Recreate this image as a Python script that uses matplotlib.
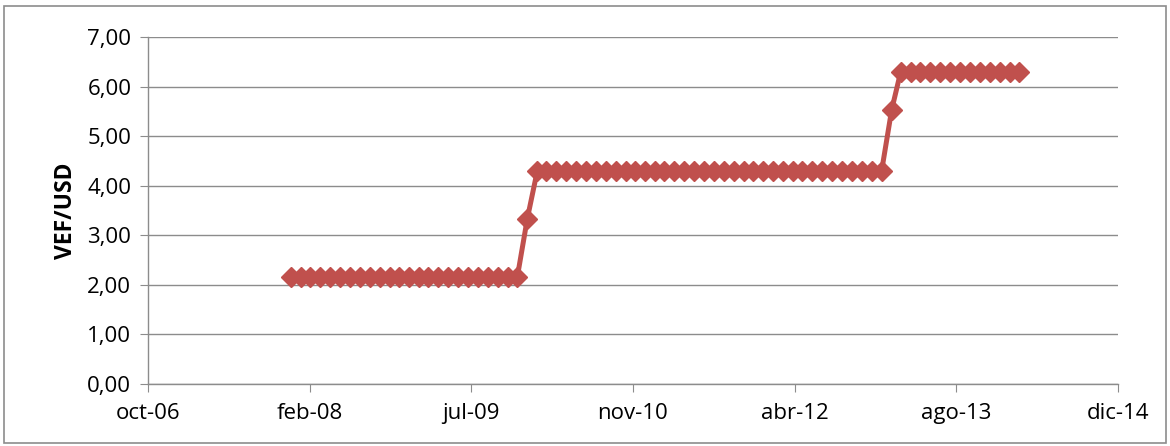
import datetime as dt
import matplotlib.pyplot as plt
import matplotlib.dates as mdates
from matplotlib.patches import Rectangle

plt.rcParams['font.family'] = ['Open Sans', 'DejaVu Sans']

# monthly VEF/USD rate, Jan 2008 .. Mar 2014
months = [dt.date(2008 + i // 12, i % 12 + 1, 1) for i in range(75)]
rateValues = [2.15] * 24 + [3.33] + [4.30] * 36 + [5.53] + [6.30] * 13

tickLabels = ["oct-06", "feb-08", "jul-09", "nov-10", "abr-12", "ago-13", "dic-14"]
axisStart = dt.date(2006, 10, 16)
tickDates = [axisStart + dt.timedelta(days=500 * k) for k in range(len(tickLabels))]

fig = plt.figure(figsize=(11.7, 4.46), dpi=100)
ax = fig.add_axes([148 / 1170, 1 - 384 / 446, 970 / 1170, 347 / 446])

ax.plot(months, rateValues, color='#C0504D', linewidth=3.6, marker='D',
        markersize=10.5, markeredgecolor='#C0504D', markerfacecolor='#C0504D', zorder=3)

ax.set_xlim(mdates.date2num(tickDates[0]), mdates.date2num(tickDates[-1]))
ax.set_xticks(mdates.date2num(tickDates))
ax.set_xticklabels(tickLabels)
ax.set_ylim(0, 7)
ax.set_yticks(range(8))
ax.set_yticklabels([f"{v},00" for v in range(8)])

ax.grid(axis='y', color='#8C8C8C', linewidth=1)
ax.set_axisbelow(True)
for side in ['top', 'right']:
    ax.spines[side].set_visible(False)
for side in ['left', 'bottom']:
    ax.spines[side].set_color('#8C8C8C')
    ax.spines[side].set_linewidth(1)
ax.tick_params(axis='both', colors='#8C8C8C', labelcolor='black', labelsize=16, length=6)
ax.tick_params(axis='x', pad=8)
ax.tick_params(axis='y', pad=6)

ax.set_ylabel("VEF/USD", fontsize=16.5, fontweight='bold', labelpad=7)

fig.patches.append(Rectangle((4 / 1170, 3 / 446), 1162 / 1170, 437 / 446, transform=fig.transFigure,
                             fill=False, edgecolor='#8C8C8C', linewidth=1.2))

fig.savefig("out.png", dpi=100)
